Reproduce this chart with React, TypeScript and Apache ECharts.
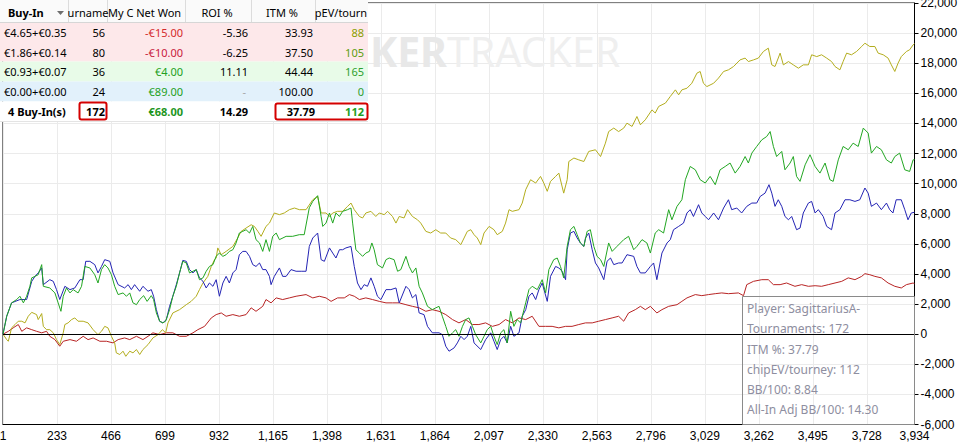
import React, { useEffect, useRef } from "react";
import * as echarts from "echarts";

// ---------- axes ----------
const X_MAX = 3934;
const X_STEP = 233;
const X_TICKS = [0, 233, 466, 699, 932, 1165, 1398, 1631, 1864, 2097, 2330, 2563, 2796, 3029, 3262, 3495, 3728, 3934];
const Y_MIN = -6000;
const Y_MAX = 22000;
const Y_STEP = 2000;

// ---------- series: [hand, value] ----------
const netWonData = [[0,0],[16,1190],[37,2080],[59,2300],[73,2520],[88,2080],[102,2520],[116,3180],[124,3740],[138,3840],[152,3950],[167,4620],[174,3180],[202,3070],[224,2740],[238,2080],[250,1520],[260,2520],[274,3070],[289,2740],[303,2960],[324,2740],[339,3180],[353,4500],[375,4400],[396,3950],[410,3400],[425,4290],[439,4620],[453,4400],[468,3950],[482,3180],[497,2630],[518,2740],[533,2520],[547,2740],[561,2080],[576,1960],[590,2300],[607,2560],[622,2180],[640,2560],[650,2300],[662,1410],[676,860],[690,750],[702,860],[719,1630],[733,2520],[748,3180],[762,4070],[776,4840],[791,4730],[805,4070],[820,4180],[834,4290],[848,3620],[863,3740],[877,4180],[891,4500],[906,4620],[920,5170],[934,5390],[949,5170],[963,5280],[977,5500],[992,5610],[1006,6060],[1020,6720],[1035,6830],[1049,6940],[1064,6720],[1078,7160],[1092,6280],[1107,6060],[1121,5500],[1135,6280],[1150,5500],[1164,6500],[1179,6720],[1193,6280],[1222,6500],[1250,6500],[1279,6610],[1300,6610],[1322,8400],[1337,8820],[1358,9200],[1373,7820],[1380,7160],[1394,7380],[1409,8050],[1423,7380],[1437,8050],[1452,7820],[1466,8160],[1487,8270],[1502,8380],[1509,7380],[1523,5610],[1538,5390],[1552,5170],[1566,5390],[1581,5500],[1592,6060],[1602,5610],[1616,4620],[1638,4400],[1653,4950],[1667,5060],[1688,4950],[1703,4180],[1717,4290],[1739,5170],[1753,4500],[1767,4070],[1782,4400],[1796,3180],[1810,2740],[1832,1850],[1853,1630],[1868,1750],[1882,1850],[1896,1190],[1911,520],[1925,-140],[1940,90],[1954,300],[1968,-140],[1983,520],[1997,970],[2011,1080],[2026,520],[2040,-30],[2062,-580],[2076,-140],[2090,300],[2105,520],[2119,-140],[2133,-690],[2148,90],[2162,300],[2176,-580],[2191,1520],[2205,520],[2219,970],[2234,750],[2256,2080],[2270,2960],[2284,3180],[2306,2960],[2327,3620],[2342,2740],[2356,4290],[2377,4950],[2392,5060],[2406,4500],[2420,3740],[2435,5830],[2449,6940],[2464,7160],[2478,6610],[2492,6060],[2507,5830],[2521,6830],[2535,6940],[2550,5830],[2564,5170],[2579,4950],[2593,4500],[2614,6060],[2629,5500],[2650,5830],[2679,6280],[2700,6500],[2722,5610],[2736,5830],[2758,6280],[2779,6060],[2794,5390],[2815,6720],[2830,6940],[2851,6720],[2873,8270],[2887,7600],[2909,8490],[2930,8930],[2945,10260],[2966,11140],[2988,10920],[3009,10260],[3031,10040],[3052,10480],[3074,9930],[3095,10920],[3117,11140],[3138,11370],[3160,10700],[3181,11140],[3203,11800],[3217,11370],[3232,12030],[3253,12470],[3275,12910],[3296,13130],[3311,13460],[3325,12470],[3339,11800],[3361,12140],[3375,10920],[3397,11370],[3411,11800],[3425,10480],[3440,10150],[3462,11250],[3483,11920],[3505,11140],[3526,10700],[3548,11370],[3569,10260],[3583,10150],[3605,11580],[3626,12470],[3648,12250],[3669,12690],[3691,12470],[3713,13690],[3734,13360],[3748,12030],[3770,12470],[3791,12250],[3813,11580],[3834,11370],[3849,11800],[3870,12030],[3892,10920],[3913,10810],[3928,11580],[3934,11600]];

const showdownData = [[0,0],[16,1190],[37,2080],[73,2300],[102,2300],[124,3510],[138,3840],[152,4070],[167,4400],[174,3290],[202,3620],[217,3510],[231,2960],[245,2300],[267,3180],[289,2960],[310,3070],[332,3620],[346,3620],[357,4840],[375,4840],[396,4620],[410,4070],[425,4500],[439,4950],[461,4840],[475,4070],[497,3290],[525,3070],[540,3290],[554,2960],[568,3290],[590,2850],[604,3180],[626,2850],[640,2960],[650,2520],[662,1630],[676,860],[690,750],[705,970],[719,1850],[733,2520],[748,3290],[762,4070],[776,4900],[791,4840],[805,4290],[820,4070],[834,4290],[848,3740],[863,3510],[877,3070],[891,3400],[906,3180],[920,3620],[934,2520],[949,3400],[963,3840],[977,3400],[992,4070],[1006,4290],[1020,5280],[1035,5500],[1049,5500],[1064,5170],[1078,4620],[1092,4500],[1107,4730],[1121,4290],[1135,4290],[1150,3840],[1157,3290],[1171,3840],[1193,4400],[1207,3840],[1222,3840],[1243,4290],[1265,4180],[1287,4180],[1308,4180],[1322,5830],[1337,6390],[1358,6720],[1373,4950],[1387,4840],[1409,5730],[1423,5390],[1437,5060],[1452,5610],[1466,5610],[1480,5730],[1502,5830],[1516,4500],[1530,3400],[1545,2960],[1559,3290],[1573,3180],[1588,3740],[1602,3180],[1616,2520],[1631,2300],[1653,2960],[1674,2960],[1696,3070],[1710,2080],[1739,3180],[1753,2960],[1767,2410],[1782,2630],[1796,1410],[1817,1300],[1832,520],[1853,90],[1882,90],[1896,-30],[1911,-800],[1925,-1130],[1947,-910],[1961,-580],[1976,-140],[1990,-360],[2004,-140],[2019,520],[2033,-580],[2062,-1020],[2083,-360],[2105,90],[2119,-470],[2133,-1020],[2148,-360],[2162,-140],[2176,-580],[2191,520],[2205,-140],[2227,90],[2241,1190],[2256,1630],[2270,2520],[2284,2740],[2299,2300],[2313,2960],[2327,3400],[2349,2180],[2363,3840],[2385,4500],[2399,4400],[2413,4180],[2428,3620],[2435,5610],[2449,6720],[2464,6830],[2478,6390],[2492,6060],[2507,5830],[2514,6390],[2528,6720],[2543,5610],[2557,4730],[2571,4400],[2593,3620],[2607,4840],[2622,5060],[2636,4620],[2657,4730],[2672,4730],[2693,5280],[2722,5170],[2736,4500],[2751,4070],[2772,4070],[2794,4500],[2808,4730],[2822,3620],[2844,5390],[2866,6060],[2880,6280],[2894,6940],[2916,7160],[2937,7380],[2952,8050],[2966,8270],[2980,7820],[3002,8600],[3016,8050],[3031,7820],[3045,7600],[3067,8050],[3088,7600],[3110,8380],[3131,8930],[3145,8270],[3167,8380],[3188,8050],[3210,8490],[3232,8710],[3253,8710],[3268,9150],[3289,9370],[3306,9930],[3318,9370],[3332,8490],[3346,8930],[3361,8490],[3375,7820],[3390,7600],[3404,7820],[3425,6940],[3440,7050],[3454,8050],[3476,8710],[3490,8820],[3505,8050],[3519,8270],[3540,7820],[3555,7160],[3576,6940],[3591,8050],[3612,8270],[3634,8930],[3655,8930],[3677,8820],[3698,8930],[3720,9710],[3734,9370],[3748,8490],[3770,8710],[3791,8270],[3813,8710],[3827,8270],[3841,8050],[3855,8930],[3877,8930],[3892,8270],[3906,7600],[3920,8050],[3934,8100]];

const nonShowdownData = [[0,0],[23,190],[44,420],[66,640],[81,190],[102,420],[124,300],[145,190],[167,90],[188,190],[202,-140],[224,-360],[245,-800],[260,-470],[289,-360],[317,-470],[346,-140],[367,-360],[389,-250],[418,-470],[447,-470],[475,-580],[497,-360],[525,-250],[547,-360],[576,-140],[604,-360],[626,-140],[647,90],[676,-30],[705,90],[733,90],[762,-140],[791,-140],[820,90],[841,300],[870,520],[899,1080],[920,1300],[942,1410],[963,1190],[992,1300],[1020,1190],[1049,1300],[1071,1750],[1092,1520],[1121,1850],[1135,2300],[1157,2080],[1179,2410],[1207,2300],[1236,2410],[1265,2520],[1308,2630],[1337,2410],[1365,2520],[1394,2410],[1416,2180],[1444,2410],[1473,2410],[1495,2630],[1516,2520],[1538,2300],[1566,2410],[1595,2300],[1624,2180],[1653,2080],[1681,2080],[1710,2080],[1739,1960],[1767,1850],[1796,1750],[1825,1520],[1853,1630],[1882,1520],[1911,1300],[1940,970],[1968,750],[1997,970],[2026,640],[2054,640],[2083,750],[2112,520],[2141,640],[2169,970],[2198,750],[2227,1080],[2256,970],[2284,1190],[2313,520],[2342,520],[2370,520],[2399,420],[2428,520],[2456,520],[2485,640],[2514,750],[2543,750],[2571,860],[2600,970],[2629,1080],[2657,1190],[2679,860],[2700,1410],[2729,1630],[2751,1850],[2772,1630],[2794,1850],[2822,1410],[2844,1630],[2873,1850],[2909,1960],[2930,2180],[2952,2410],[2988,2630],[3016,2560],[3045,2630],[3074,2690],[3102,2740],[3131,2690],[3174,2740],[3196,2560],[3210,3290],[3239,3510],[3275,3620],[3303,3620],[3325,3290],[3354,3290],[3382,3400],[3418,3180],[3447,3290],[3476,3180],[3505,3220],[3533,3180],[3562,3290],[3591,3400],[3620,3510],[3648,3740],[3677,3620],[3706,3840],[3720,4020],[3741,3950],[3763,3840],[3791,3740],[3820,3400],[3849,3180],[3877,3070],[3899,3290],[3928,3400],[3934,3350]];

const allInAdjData = [[0,0],[16,-360],[23,-470],[37,420],[52,640],[66,860],[81,860],[95,750],[109,1190],[124,1450],[145,1300],[152,970],[167,1370],[174,520],[188,300],[202,300],[217,90],[231,-360],[245,-690],[260,90],[267,640],[281,750],[296,970],[310,1080],[324,860],[346,860],[367,750],[389,300],[410,-30],[425,190],[439,520],[453,420],[468,-140],[482,-580],[489,-1240],[504,-1350],[518,-1130],[530,-1470],[547,-1130],[561,-1240],[576,-1020],[590,-1350],[604,-1020],[626,-690],[647,-250],[669,-30],[688,300],[702,90],[712,750],[733,1410],[762,1630],[791,1960],[812,2180],[834,2520],[848,2960],[863,3400],[884,3840],[899,4500],[913,4950],[920,5060],[927,5730],[942,5280],[963,5500],[992,5830],[1013,6390],[1028,6830],[1049,7050],[1071,7270],[1085,7160],[1100,6830],[1114,6500],[1135,7160],[1150,7380],[1171,8050],[1193,7940],[1214,8050],[1236,8270],[1258,8380],[1279,8270],[1308,8270],[1337,8930],[1358,9150],[1373,8050],[1394,8050],[1409,7820],[1423,8050],[1444,8160],[1466,8160],[1487,8490],[1502,8710],[1516,8270],[1538,7820],[1552,7720],[1566,8050],[1588,8160],[1609,7820],[1624,8050],[1645,7940],[1660,8160],[1681,7820],[1696,7380],[1710,7820],[1731,7720],[1746,8270],[1767,7820],[1789,7600],[1803,7380],[1825,6830],[1846,6720],[1868,6940],[1889,6720],[1911,6720],[1932,6390],[1954,6280],[1976,5950],[1990,6390],[2004,6830],[2019,6940],[2033,6610],[2047,6390],[2062,5950],[2076,6720],[2098,7160],[2119,6940],[2133,6610],[2155,6830],[2169,7380],[2184,8270],[2198,8160],[2227,8270],[2241,8710],[2256,9600],[2277,10260],[2299,10040],[2320,10480],[2334,10040],[2349,9490],[2363,10150],[2385,10480],[2399,10700],[2420,9370],[2435,10260],[2442,11470],[2464,11700],[2485,11580],[2507,11470],[2528,12140],[2557,12250],[2579,11800],[2600,12690],[2614,13460],[2636,13690],[2657,13460],[2679,13690],[2693,14020],[2715,13800],[2736,14460],[2751,13910],[2772,14240],[2801,14900],[2815,14690],[2830,15130],[2859,15350],[2880,15790],[2902,16230],[2916,15900],[2930,16230],[2952,16340],[2973,16670],[2995,17340],[3009,17450],[3023,16670],[3038,16450],[3067,16670],[3088,17010],[3110,17450],[3131,17560],[3153,17780],[3181,18220],[3203,18340],[3217,18110],[3239,18220],[3260,18340],[3282,18780],[3303,19000],[3318,17890],[3332,17780],[3354,18670],[3368,17890],[3390,18110],[3411,17890],[3433,17670],[3454,17890],[3476,17890],[3490,18560],[3512,18440],[3533,18560],[3555,18340],[3576,18110],[3591,17780],[3612,17560],[3626,18110],[3641,18670],[3662,18560],[3684,18780],[3706,19110],[3720,19330],[3741,19110],[3763,19110],[3777,18670],[3799,18560],[3820,18340],[3834,17890],[3849,17450],[3863,18000],[3877,18440],[3899,18780],[3913,18890],[3928,19220],[3934,19300]];

// ---------- table ----------
const tableHeaders = ["Buy-In", "urname", "My C Net Won", "ROI %", "ITM %", "pEV/tourn"];
const buyIns = ["€4.65+€0.35", "€1.86+€0.14", "€0.93+€0.07", "€0.00+€0.00"];
const tourneys = ["56", "80", "36", "24"];
const netWonCol = ["-€15.00", "-€10.00", "€4.00", "€89.00"];
const roiCol = ["-5.36", "-6.25", "11.11", "-"];
const itmCol = ["33.93", "37.50", "44.44", "100.00"];
const pevCol = ["88", "105", "165", "0"];
const totalsRow = ["4 Buy-In(s)", "172", "€68.00", "14.29", "37.79", "112"];

// watermark (visible part beside the table)
const watermarkBold = "KER";
const watermarkLight = "TRACKER";

const infoLines = [
  "Player: SagittariusA-",
  "Tournaments: 172",
  "ITM %: 37.79",
  "chipEV/tourney: 112",
  "BB/100: 8.84",
  "All-In Adj BB/100: 14.30",
];

const TF = '"Noto Sans", sans-serif';

function txt(x: number, y: number, text: string, o: any = {}) {
  const align = o.align || "left";
  return {
    type: "text",
    x,
    y,
    z: o.z ?? 100,
    silent: true,
    style: {
      text,
      fill: o.fill || "#000",
      font: `${o.bold ? "bold " : ""}${o.size || 11}px ${o.family || TF}`,
      textAlign: align,
      align,
      textVerticalAlign: "middle",
      verticalAlign: "middle",
    },
  };
}

function buildGraphic() {
  const g: any[] = [];
  // watermark
  g.push(txt(447, 51, watermarkBold, { bold: true, size: 41, fill: "#e8e8e8", align: "right", z: 1 }));
  g.push(txt(447, 51, watermarkLight, { size: 41, fill: "#efefef", align: "left", z: 1 }));

  // table body backgrounds
  const bands = [[22, 42], [42, 61.5], [61.5, 81.5], [81.5, 101.5], [101.5, 122]];
  const fills = ["#fde8ea", "#fde8ea", "#e8fbe8", "#e2f1fb", "#ffffff"];
  g.push({ type: "rect", z: 99, silent: true, shape: { x: 0, y: 0, width: 368, height: 22 }, style: { fill: "#fafafa" } });
  bands.forEach((b, i) => {
    g.push({ type: "rect", z: 99, silent: true, shape: { x: 0, y: b[0], width: 368, height: b[1] - b[0] }, style: { fill: fills[i] } });
  });
  g.push({ type: "line", z: 100, silent: true, shape: { x1: 0, y1: 22.5, x2: 368, y2: 22.5 }, style: { stroke: "#d6d6d6", lineWidth: 1 } });
  g.push({ type: "line", z: 100, silent: true, shape: { x1: 0, y1: 121.5, x2: 368, y2: 121.5 }, style: { stroke: "#e4e4e4", lineWidth: 1 } });
  [68.5, 107.5, 185.5, 251.5, 315.5].forEach((x) => {
    g.push({ type: "line", z: 100, silent: true, shape: { x1: x, y1: 0, x2: x, y2: 22 }, style: { stroke: "#dcdcdc", lineWidth: 1 } });
  });
  // header
  const hy = 12.5;
  g.push(txt(8, hy, tableHeaders[0], { bold: true }));
  g.push({ type: "polygon", z: 100, silent: true, shape: { points: [[57, 11], [64, 11], [60.5, 15]] }, style: { fill: "#6e6e6e" } });
  g.push(txt(88, hy, tableHeaders[1], { align: "center" }));
  g.push(txt(108, hy, tableHeaders[2]));
  g.push(txt(217, hy, tableHeaders[3], { align: "center" }));
  g.push(txt(282, hy, tableHeaders[4], { align: "center" }));
  g.push(txt(341, hy, tableHeaders[5], { align: "center" }));

  // rows
  const rowY = [32.5, 52, 71.5, 91.5];
  const netColors = ["#d42a2a", "#c8203c", "#22a022", "#22a022"];
  const pevColors = ["#8a9e00", "#5c9e10", "#2ea02e", "#2ea02e"];
  buyIns.forEach((b, i) => {
    const y = rowY[i];
    g.push(txt(4, y, b));
    g.push(txt(105, y, tourneys[i], { align: "right" }));
    g.push(txt(183, y, netWonCol[i], { align: "right", fill: netColors[i] }));
    if (roiCol[i] === "-") g.push(txt(246, y, roiCol[i], { align: "right", fill: "#a8a8a8" }));
    else g.push(txt(248, y, roiCol[i], { align: "right" }));
    g.push(txt(313, y, itmCol[i], { align: "right" }));
    g.push(txt(364, y, pevCol[i], { align: "right", fill: pevColors[i] }));
  });
  // totals
  const ty = 111.5;
  g.push(txt(8, ty, totalsRow[0], { bold: true }));
  g.push(txt(105, ty, totalsRow[1], { bold: true, align: "right" }));
  g.push(txt(183, ty, totalsRow[2], { bold: true, align: "right", fill: "#1e961e" }));
  g.push(txt(248, ty, totalsRow[3], { bold: true, align: "right" }));
  g.push(txt(315, ty, totalsRow[4], { bold: true, align: "right" }));
  g.push(txt(364, ty, totalsRow[5], { bold: true, align: "right", fill: "#22a022" }));
  g.push({ type: "rect", z: 101, silent: true, shape: { x: 79.5, y: 102.5, width: 27, height: 17, r: 2 }, style: { fill: "none", stroke: "#d40000", lineWidth: 2 } });
  g.push({ type: "rect", z: 101, silent: true, shape: { x: 275.5, y: 103.5, width: 92, height: 16, r: 2 }, style: { fill: "none", stroke: "#d40000", lineWidth: 2 } });

  // info box
  g.push({ type: "rect", z: 100, silent: true, shape: { x: 742.5, y: 296.5, width: 172, height: 128 }, style: { fill: "none", stroke: "#8a8a8a", lineWidth: 1 } });
  const infoY = [308.5, 328.5, 349, 369, 389, 409.5];
  infoLines.forEach((t, i) => g.push(txt(747, infoY[i], t, { size: 12, fill: "#8e8ea0" })));
  return g;
}

const fmt = (v: number) => Number(v).toLocaleString("en-US");

const axisFont = { fontFamily: '"Liberation Sans", Arial, sans-serif', fontSize: 12, color: "#000" };

function buildOption() {
  const line = (name: string, data: number[][], color: string, extra: any = {}) => ({
    name,
    type: "line",
    data,
    showSymbol: false,
    symbol: "none",
    smooth: false,
    lineStyle: { color, width: 1 },
    itemStyle: { color },
    ...extra,
  });
  return {
    animation: false,
    backgroundColor: "#ffffff",
    grid: {
      left: 3,
      right: 47.5,
      top: 3,
      bottom: 18.5,
      show: true,
      borderColor: "#000",
      borderWidth: 1,
      backgroundColor: "transparent",
      containLabel: false,
      outerBoundsMode: "none",
    },
    xAxis: {
      type: "value",
      min: 0,
      max: X_MAX,
      interval: X_STEP,
      axisLine: { show: true, onZero: false, lineStyle: { color: "#000", width: 1 } },
      axisTick: { show: false },
      axisLabel: {
        ...axisFont,
        margin: 5,
        customValues: X_TICKS,
        showMinLabel: true,
        showMaxLabel: true,
        hideOverlap: false,
        formatter: (v: number) => (Number(v) === 0 ? "1" : fmt(v)),
      },
      splitLine: { show: true, lineStyle: { color: "#ebebeb", width: 1 } },
    },
    yAxis: {
      type: "value",
      position: "right",
      min: Y_MIN,
      max: Y_MAX,
      interval: Y_STEP,
      axisLine: { show: true, onZero: false, lineStyle: { color: "#000", width: 1 } },
      axisTick: { show: true, length: 4, lineStyle: { color: "#000" } },
      axisLabel: { ...axisFont, margin: 6, showMinLabel: true, showMaxLabel: true, formatter: (v: number) => fmt(v) },
      splitLine: { show: true, lineStyle: { color: "#ebebeb", width: 1 } },
    },
    series: [
      line("Non-Showdown Won", nonShowdownData, "#b82424"),
      line("All-In Adj Won", allInAdjData, "#b3ad1e"),
      line("Showdown Won", showdownData, "#2424b4"),
      line("Net Won", netWonData, "#22a622", {
        markLine: {
          silent: true,
          symbol: "none",
          label: { show: false },
          lineStyle: { color: "#000", type: "solid", width: 1 },
          data: [{ yAxis: 0 }],
        },
      }),
    ],
    graphic: buildGraphic(),
  };
}

export default function App() {
  const ref = useRef<HTMLDivElement>(null);
  useEffect(() => {
    if (!ref.current) return;
    const chart = echarts.init(ref.current, null, { renderer: "svg" });
    chart.setOption(buildOption() as any);
    return () => chart.dispose();
  }, []);
  return (
    <div
      ref={ref}
      style={{ position: "fixed", left: 0, top: 0, width: 962, height: 443, background: "#fff" }}
    />
  );
}
